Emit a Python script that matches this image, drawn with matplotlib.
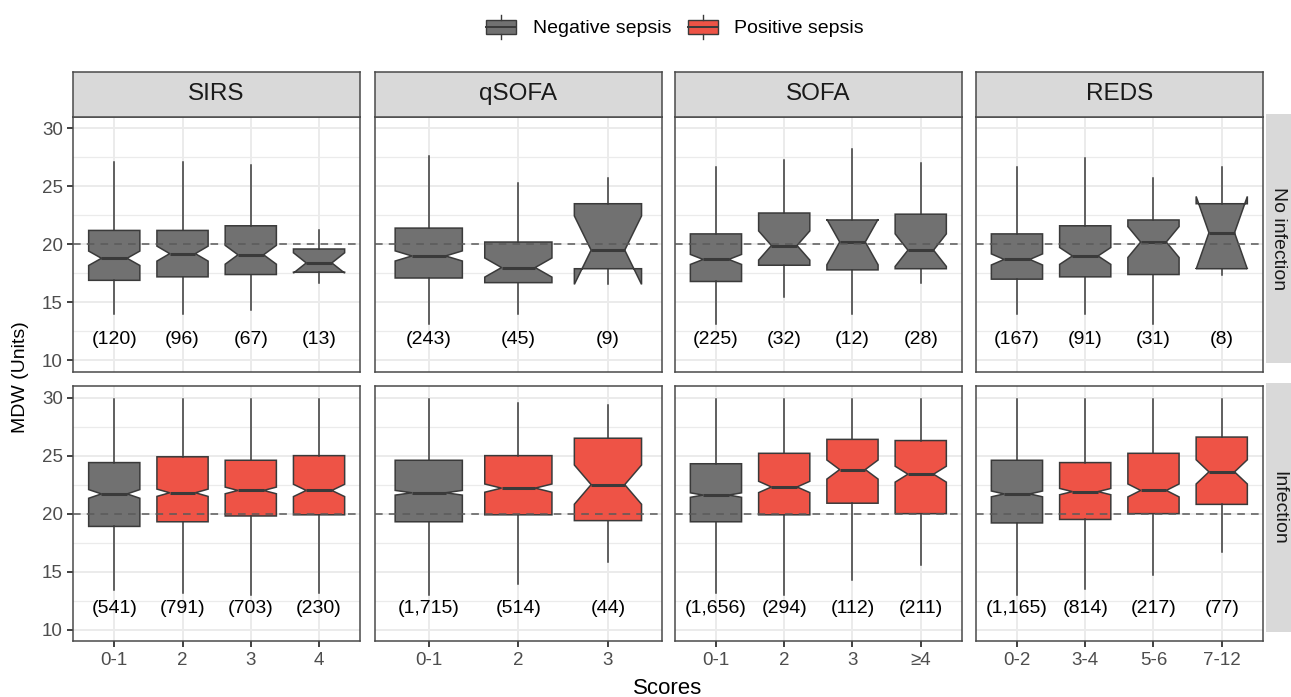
"""
MDW distribution by sepsis score category, split by infection status
"""

import numpy as np
import matplotlib
matplotlib.use('Agg')
import matplotlib.pyplot as plt
from matplotlib.patches import Rectangle, Patch
from matplotlib.lines import Line2D
from matplotlib.legend_handler import HandlerBase

plt.rcParams['font.family'] = ['Liberation Sans', 'DejaVu Sans']

# Score systems and their categories
systems = ['SIRS', 'qSOFA', 'SOFA', 'REDS']
sirs_labels = ['0-1', '2', '3', '4']
qsofa_labels = ['0-1', '2', '3']
sofa_labels = ['0-1', '2', '3', '≥4']
reds_labels = ['0-2', '3-4', '5-6', '7-12']
rows = ['No infection', 'Infection']

# Box statistics: (lower whisker, Q1, median, Q3, upper whisker)
sirs_noinf = [(14.0, 16.9, 18.8, 21.2, 27.1), (14.0, 17.2, 19.2, 21.2, 27.1),
              (14.3, 17.4, 19.1, 21.6, 26.8), (16.7, 17.6, 18.4, 19.6, 21.2)]
sirs_noinf_n = [120, 96, 67, 13]
qsofa_noinf = [(13.1, 17.1, 19.0, 21.4, 27.6), (14.0, 16.7, 18.0, 20.2, 25.3),
               (16.6, 17.9, 19.5, 23.5, 25.7)]
qsofa_noinf_n = [243, 45, 9]
sofa_noinf = [(13.1, 16.8, 18.7, 20.9, 26.7), (15.5, 18.2, 19.9, 22.7, 27.3),
              (14.0, 17.8, 20.2, 22.1, 28.2), (16.7, 17.9, 19.5, 22.6, 27.0)]
sofa_noinf_n = [225, 32, 12, 28]
reds_noinf = [(14.0, 17.0, 18.7, 20.9, 26.7), (14.0, 17.2, 19.0, 21.6, 27.4),
              (13.1, 17.4, 20.2, 22.1, 25.7), (17.4, 17.9, 21.0, 23.5, 26.7)]
reds_noinf_n = [167, 91, 31, 8]

sirs_inf = [(13.4, 18.9, 21.7, 24.4, 29.9), (13.2, 19.3, 21.8, 24.9, 29.9),
            (13.0, 19.8, 22.0, 24.6, 29.9), (13.2, 19.9, 22.0, 25.0, 29.9)]
sirs_inf_n = [541, 791, 703, 230]
qsofa_inf = [(13.0, 19.3, 21.8, 24.6, 29.9), (13.9, 19.9, 22.2, 25.0, 29.5),
             (15.8, 19.4, 22.5, 26.5, 29.4)]
qsofa_inf_n = [1715, 514, 44]
sofa_inf = [(13.2, 19.3, 21.6, 24.3, 29.9), (13.0, 19.9, 22.3, 25.2, 29.9),
            (14.3, 20.9, 23.8, 26.4, 29.9), (15.6, 20.0, 23.4, 26.3, 29.9)]
sofa_inf_n = [1656, 294, 112, 211]
reds_inf = [(13.0, 19.2, 21.7, 24.6, 29.9), (13.5, 19.5, 21.9, 24.4, 29.9),
            (14.7, 20.0, 22.0, 25.2, 29.9), (16.7, 20.8, 23.6, 26.6, 29.9)]
reds_inf_n = [1165, 814, 217, 77]

# Sepsis-positive flags for the infection row (no-infection row is all negative)
sirs_pos = [False, True, True, True]
qsofa_pos = [False, True, True]
sofa_pos = [False, True, True, True]
reds_pos = [False, True, True, True]

labels = [sirs_labels, qsofa_labels, sofa_labels, reds_labels]
boxes = [[sirs_noinf, qsofa_noinf, sofa_noinf, reds_noinf],
         [sirs_inf, qsofa_inf, sofa_inf, reds_inf]]
counts = [[sirs_noinf_n, qsofa_noinf_n, sofa_noinf_n, reds_noinf_n],
          [sirs_inf_n, qsofa_inf_n, sofa_inf_n, reds_inf_n]]
positive = [sirs_pos, qsofa_pos, sofa_pos, reds_pos]

NEG = '#717171'
POS = '#EE5346'
EDGE = '#3a3a3a'
GRID = '#ebebeb'
BORDER = '#4a4a4a'
STRIP = '#d9d9d9'

W, H = 1291, 697
fig = plt.figure(figsize=(W / 100, H / 100), dpi=100)

col_x = [73.3, 375.0, 675.0, 976.0]
pw = 286.7
row_y = [116.7, 386.0]
ph = 255.3


def frac(x, y, w, h):
    """ pixel box -> figure fraction rect """
    return [x / W, 1 - (y + h) / H, w / W, h / H]


def make_stats(box, n):
    lo, q1, med, q3, hi = box
    half = 1.58 * (q3 - q1) / np.sqrt(n)
    return dict(whislo=lo, q1=q1, med=med, q3=q3, whishi=hi,
                cilo=med - half, cihi=med + half, fliers=[])


for r in range(2):
    for c in range(4):
        ax = fig.add_axes(frac(col_x[c], row_y[r], pw, ph))
        cats = labels[c]
        pos = np.arange(1, len(cats) + 1)
        stats = [make_stats(b, n) for b, n in zip(boxes[r][c], counts[r][c])]

        art = ax.bxp(stats, positions=pos, widths=0.75, shownotches=True,
                     showfliers=False, showcaps=False, patch_artist=True, manage_ticks=False,
                     boxprops=dict(edgecolor=EDGE, linewidth=1.1),
                     whiskerprops=dict(color=EDGE, linewidth=1.1),
                     medianprops=dict(color=EDGE, linewidth=2.2))
        for i, patch in enumerate(art['boxes']):
            is_pos = r == 1 and positive[c][i]
            patch.set_facecolor(POS if is_pos else NEG)
            patch.set_zorder(2)

        ax.set_xlim(0.4, len(cats) + 0.6)
        ax.set_ylim(9, 31)
        ax.set_yticks([10, 15, 20, 25, 30])
        ax.set_yticks([12.5, 17.5, 22.5, 27.5], minor=True)
        ax.set_xticks(pos)
        ax.set_xticks([], minor=True)
        ax.grid(True, which='major', color=GRID, linewidth=1.4, zorder=0)
        ax.grid(True, which='minor', axis='y', color=GRID, linewidth=0.9, zorder=0)
        ax.set_axisbelow(True)

        ax.axhline(20, color='#5a5a5a', linestyle=(0, (5, 4)), linewidth=1.1, zorder=4)

        for p, n in zip(pos, counts[r][c]):
            ax.text(p, 11.8, f'({n:,})', ha='center', va='center', fontsize=14, color='black')

        for s in ax.spines.values():
            s.set_color(BORDER)
            s.set_linewidth(1.1)

        ax.tick_params(axis='both', which='major', length=4, width=1.3, color='#333333',
                       labelsize=13.5, labelcolor='#4d4d4d')
        ax.tick_params(which='minor', length=0)
        if c == 0:
            ax.set_yticklabels(['10', '15', '20', '25', '30'])
        else:
            ax.tick_params(axis='y', left=False, labelleft=False)
        if r == 1:
            ax.set_xticklabels(cats)
        else:
            ax.tick_params(axis='x', bottom=False, labelbottom=False)

        # column strip
        if r == 0:
            sax = fig.add_axes(frac(col_x[c], 71.7, pw, 45.0))
            sax.set_facecolor(STRIP)
            sax.set_xticks([])
            sax.set_yticks([])
            for s in sax.spines.values():
                s.set_color(BORDER)
                s.set_linewidth(1.1)
            sax.text(0.5, 0.5, systems[c], ha='center', va='center', fontsize=17.5,
                     color='#1a1a1a', transform=sax.transAxes)

    # row strip
    rax = fig.add_axes(frac(1266, row_y[r] - 3, 25, ph - 6))
    rax.set_facecolor(STRIP)
    rax.set_xticks([])
    rax.set_yticks([])
    for s in rax.spines.values():
        s.set_visible(False)
    rax.text(0.5, 0.5, rows[r], ha='center', va='center', rotation=-90, fontsize=14,
             color='#1a1a1a', transform=rax.transAxes)

fig.text(21 / W, 1 - 377 / H, 'MDW (Units)', rotation=90, ha='center', va='center',
         fontsize=14, color='black')
fig.text(668 / W, 1 - 688 / H, 'Scores', ha='center', va='center', fontsize=16, color='black')


class BoxKey(HandlerBase):
    """ Legend key drawn as a small box with median and whiskers """

    def create_artists(self, legend, orig_handle, xdescent, ydescent, width, height, fontsize, trans):
        x0, y0 = -xdescent, -ydescent
        color = orig_handle.get_facecolor()
        rect = Rectangle((x0, y0 + height * 0.18), width, height * 0.64, facecolor=color,
                         edgecolor=EDGE, linewidth=1.0, transform=trans)
        med = Line2D([x0, x0 + width], [y0 + height / 2] * 2, color=EDGE, linewidth=1.4, transform=trans)
        w1 = Line2D([x0 + width / 2] * 2, [y0, y0 + height * 0.18], color=EDGE, linewidth=1.0, transform=trans)
        w2 = Line2D([x0 + width / 2] * 2, [y0 + height * 0.82, y0 + height], color=EDGE, linewidth=1.0,
                    transform=trans)
        return [rect, med, w1, w2]


handles = [Patch(facecolor=NEG), Patch(facecolor=POS)]
fig.legend(handles, ['Negative sepsis', 'Positive sepsis'], loc='center',
           bbox_to_anchor=(675 / W, 1 - 27 / H), ncol=2, frameon=False, fontsize=14,
           handlelength=1.55, handleheight=1.45, handletextpad=0.85, columnspacing=0.85,
           handler_map={Patch: BoxKey()})

fig.savefig('out.png', dpi=100)
